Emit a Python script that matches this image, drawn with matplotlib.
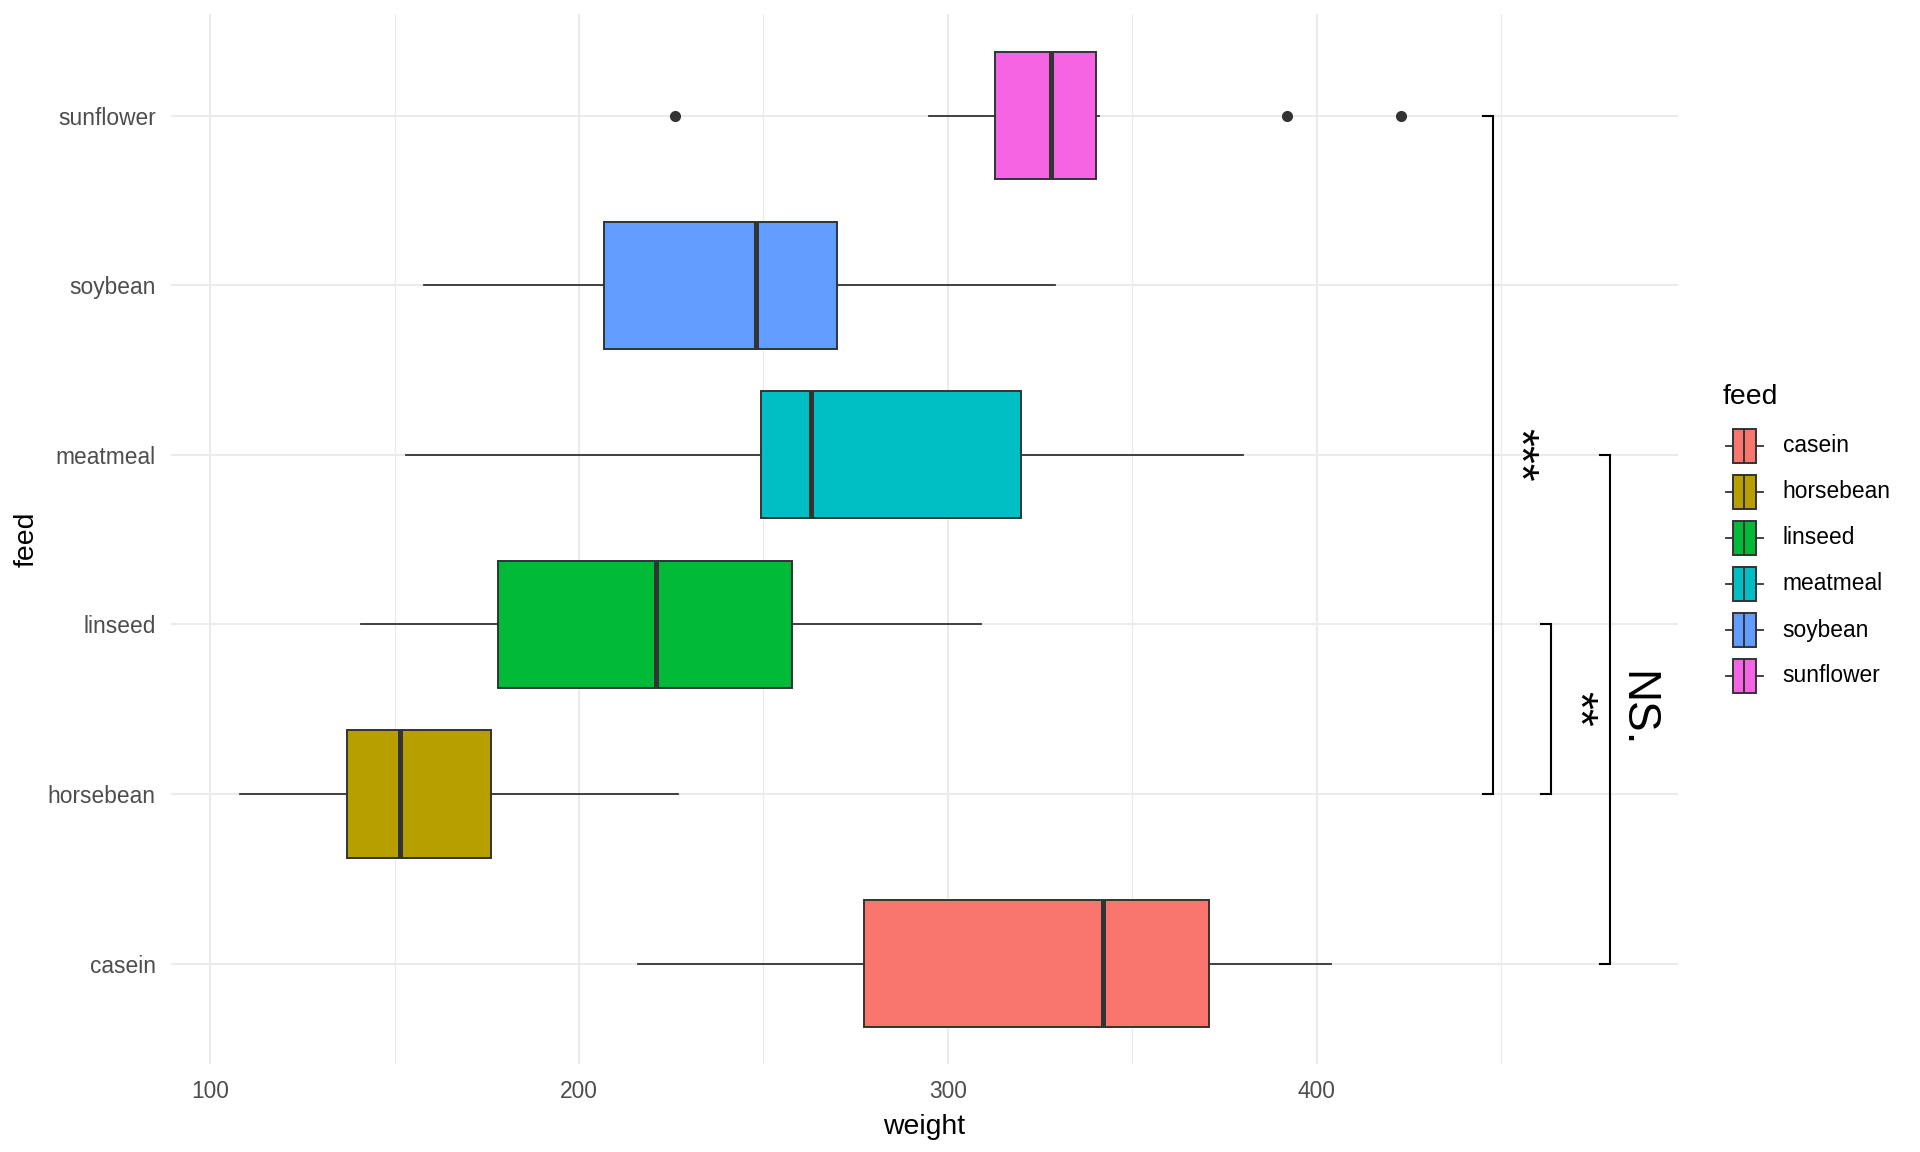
import numpy as np
import matplotlib
matplotlib.use("Agg")
import matplotlib.pyplot as plt
from matplotlib.patches import Rectangle

plt.rcParams['font.family'] = ['Liberation Sans', 'DejaVu Sans']

# box statistics per feed
feeds = ["casein", "horsebean", "linseed", "meatmeal", "soybean", "sunflower"]
colors = ["#F8766D", "#B79F00", "#00BA38", "#00BFC4", "#619CFF", "#F564E3"]
q1 = [277.25, 137, 178, 249.5, 206.75, 312.75]
med = [342, 151.5, 221, 263, 248, 328]
q3 = [370.75, 176.25, 257.75, 320, 270, 340.25]
whislo = [216, 108, 141, 153, 158, 295]
whishi = [404, 227, 309, 380, 329, 341]
outliers = [[], [], [], [], [], [226, 392, 423]]

# significance brackets
br_from = ["horsebean", "horsebean", "casein"]
br_to = ["sunflower", "linseed", "meatmeal"]
br_x = [447.8, 463.6, 479.5]
br_label = ["***", "**", "NS."]
br_text_x = [454.6, 470.4, 486.6]
tip = 2.7

fig = plt.figure(figsize=(19.2, 11.52), dpi=100)
W, H = 1920, 1152
ax = fig.add_axes([171 / W, 1 - 1064.3 / H, (1678 - 171) / W, (1064.3 - 14) / H])

stats = []
for i, f in enumerate(feeds):
    stats.append(dict(label=f, q1=q1[i], med=med[i], q3=q3[i],
                      whislo=whislo[i], whishi=whishi[i], fliers=outliers[i]))

pos = np.arange(1, len(feeds) + 1)
bp = ax.bxp(stats, positions=pos, vert=False, widths=0.75, patch_artist=True,
            showcaps=False,
            boxprops=dict(edgecolor="#333333", linewidth=1.4),
            medianprops=dict(color="#333333", linewidth=3.6),
            whiskerprops=dict(color="#333333", linewidth=1.3),
            flierprops=dict(marker="o", markerfacecolor="#333333",
                            markeredgecolor="#333333", markersize=7),
            zorder=3)
for patch, c in zip(bp["boxes"], colors):
    patch.set_facecolor(c)

# brackets with labels
for a, b, x, lab, tx in zip(br_from, br_to, br_x, br_label, br_text_x):
    ya = feeds.index(a) + 1
    yb = feeds.index(b) + 1
    ax.plot([x - tip, x, x, x - tip], [ya, ya, yb, yb], color="black",
            linewidth=1.5, zorder=4, solid_joinstyle="miter")
    ax.text(tx, (ya + yb) / 2, lab, rotation=-90, ha="center", va="center",
            fontsize=33, color="black")

ax.set_xlim(89.4, 498)
ax.set_ylim(0.406, 6.6)
ax.set_yticks(pos)
ax.set_yticklabels(feeds)
ax.set_xticks([100, 200, 300, 400])
ax.set_xticks([150, 250, 350, 450], minor=True)
ax.tick_params(axis="both", which="both", length=0, labelsize=16.4,
               labelcolor="#4D4D4D")
ax.tick_params(axis="y", pad=11)
ax.tick_params(axis="x", pad=11)
ax.grid(True, which="major", color="#EBEBEB", linewidth=1.45)
ax.grid(True, which="minor", axis="x", color="#EBEBEB", linewidth=0.8)
ax.set_axisbelow(True)
for s in ax.spines.values():
    s.set_visible(False)
ax.set_xlabel("weight", fontsize=20.4)
ax.set_ylabel("feed", fontsize=20.4)
ax.xaxis.label.set_va("center")
ax.xaxis.set_label_coords(0.5, (1064.3 - 1127) / (1064.3 - 14))
ax.yaxis.label.set_va("center")
ax.yaxis.set_label_coords((27 - 171) / (1678 - 171), 0.5)

# legend drawn by hand in pixel coordinates
lax = fig.add_axes([0, 0, 1, 1])
lax.set_xlim(0, W)
lax.set_ylim(H, 0)
lax.axis("off")
lax.text(1722.7, 397, "feed", fontsize=20.4, va="center", ha="left")
for i, (f, c) in enumerate(zip(feeds, colors)):
    y = 446 + 46 * i
    lax.add_patch(Rectangle((1732.7, y - 17.2), 23.3, 34.4, facecolor=c,
                            edgecolor="#333333", linewidth=1.4))
    lax.plot([1744.4, 1744.4], [y - 17.2, y + 17.2], color="#333333", linewidth=1.4)
    lax.plot([1726, 1732.7], [y, y], color="#333333", linewidth=1.3)
    lax.plot([1756, 1762.7], [y, y], color="#333333", linewidth=1.3)
    lax.text(1782.7, y, f, fontsize=16.4, va="center", ha="left", color="black")

fig.savefig("out.png", dpi=100)
